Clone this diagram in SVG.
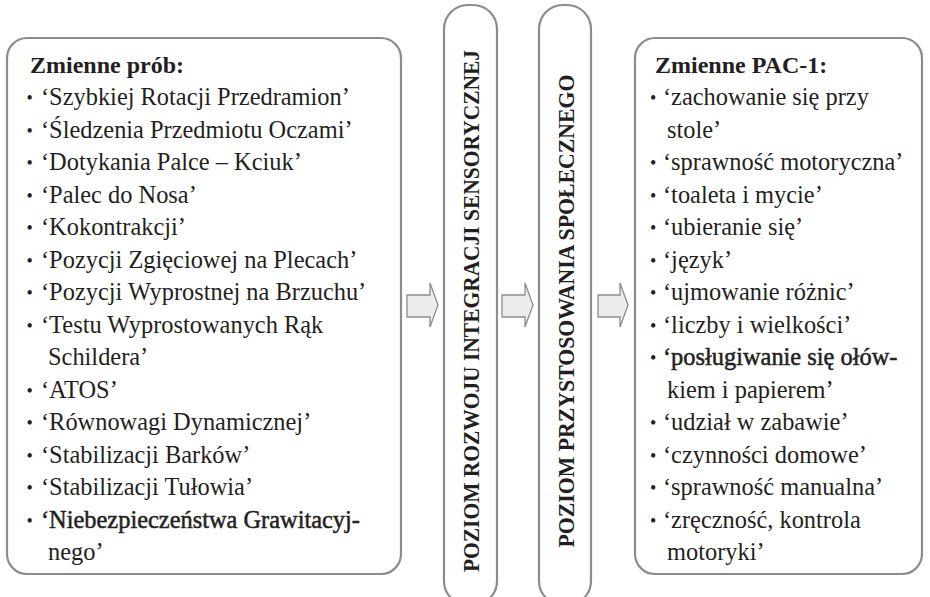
<svg xmlns="http://www.w3.org/2000/svg" width="930" height="597" viewBox="0 0 930 597" font-family="'Liberation Serif', 'Times New Roman', serif">
<defs>
<style>
.box{fill:#fff;stroke:#8c8c8e;stroke-width:2.2}
.arr{fill:#ececec;stroke:#8c8c8e;stroke-width:1.3;stroke-linejoin:miter}
text{font-family:'Liberation Serif','Times New Roman',serif;fill:#231f20}
.t{font-size:24px;font-weight:bold}
.i text{font-size:24.4px}
.b{font-size:18px}
.s{stroke:#231f20;stroke-width:0.5}
.v{font-size:23px;font-weight:bold}
</style>
</defs>
<rect width="930" height="597" fill="#fff"/>
<g id="left">
<rect class="box" x="7" y="38" width="394" height="536" rx="20"/>
<text class="t" x="30" y="73">Zmienne prób:</text>
<g class="i">
<text x="41" y="105">‘Szybkiej Rotacji Przedramion’</text>
<text x="41" y="137.5">‘Śledzenia Przedmiotu Oczami’</text>
<text x="41" y="170">‘Dotykania Palce – Kciuk’</text>
<text x="41" y="202.5">‘Palec do Nosa’</text>
<text x="41" y="235">‘Kokontrakcji’</text>
<text x="41" y="267.5">‘Pozycji Zgięciowej na Plecach’</text>
<text x="41" y="300">‘Pozycji Wyprostnej na Brzuchu’</text>
<text x="41" y="332.5">‘Testu Wyprostowanych Rąk</text>
<text x="48" y="365">Schildera’</text>
<text x="41" y="397.5">‘ATOS’</text>
<text x="41" y="430">‘Równowagi Dynamicznej’</text>
<text x="41" y="462.5">‘Stabilizacji Barków’</text>
<text x="41" y="495">‘Stabilizacji Tułowia’</text>
<text x="41" y="527.5" class="s">‘Niebezpieczeństwa Grawitacyj-</text>
<text x="48" y="560">nego’</text>
</g>
<g class="b">
<text x="26.5" y="104">•</text><text x="26.5" y="136.5">•</text><text x="26.5" y="169">•</text><text x="26.5" y="201.5">•</text><text x="26.5" y="234">•</text><text x="26.5" y="266.5">•</text><text x="26.5" y="299">•</text><text x="26.5" y="331.5">•</text><text x="26.5" y="396.5">•</text><text x="26.5" y="429">•</text><text x="26.5" y="461.5">•</text><text x="26.5" y="494">•</text><text x="26.5" y="526.5">•</text>
</g>
</g>
<g id="col1">
<rect class="box" x="444" y="5" width="53" height="600" rx="24"/>
<text class="v" transform="translate(479,311) rotate(-90)" text-anchor="middle" textLength="522" lengthAdjust="spacingAndGlyphs">POZIOM ROZWOJU INTEGRACJI SENSORYCZNEJ</text>
</g>
<g id="col2">
<rect class="box" x="539" y="5" width="52" height="600" rx="24"/>
<text class="v" transform="translate(574,311) rotate(-90)" text-anchor="middle" textLength="473" lengthAdjust="spacingAndGlyphs">POZIOM PRZYSTOSOWANIA SPOŁECZNEGO</text>
</g>
<g id="right">
<rect class="box" x="635" y="38" width="287" height="536" rx="20"/>
<text class="t" x="655" y="73">Zmienne PAC-1:</text>
<g class="i">
<text x="663" y="105">‘zachowanie się przy</text>
<text x="667" y="137.5">stole’</text>
<text x="663" y="170">‘sprawność motoryczna’</text>
<text x="663" y="202.5">‘toaleta i mycie’</text>
<text x="663" y="235">‘ubieranie się’</text>
<text x="663" y="267.5">‘język’</text>
<text x="663" y="300">‘ujmowanie różnic’</text>
<text x="663" y="332.5">‘liczby i wielkości’</text>
<text x="663" y="365" class="s">‘posługiwanie się ołów-</text>
<text x="667" y="397.5">kiem i papierem’</text>
<text x="663" y="430">‘udział w zabawie’</text>
<text x="663" y="462.5">‘czynności domowe’</text>
<text x="663" y="495">‘sprawność manualna’</text>
<text x="663" y="527.5">‘zręczność, kontrola</text>
<text x="667" y="560">motoryki’</text>
</g>
<g class="b">
<text x="650" y="104">•</text><text x="650" y="169">•</text><text x="650" y="201.5">•</text><text x="650" y="234">•</text><text x="650" y="266.5">•</text><text x="650" y="299">•</text><text x="650" y="331.5">•</text><text x="650" y="364">•</text><text x="650" y="429">•</text><text x="650" y="461.5">•</text><text x="650" y="494">•</text><text x="650" y="526.5">•</text>
</g>
</g>
<g id="connectors">
<path class="arr" d="M407,295 H430 V283 L438,305 L430,327 V317 H407 Z"/>
<path class="arr" d="M502,295 H525 V283 L533,305 L525,327 V317 H502 Z"/>
<path class="arr" d="M598,295 H620 V283 L628,305 L620,327 V317 H598 Z"/>
</g>
</svg>
